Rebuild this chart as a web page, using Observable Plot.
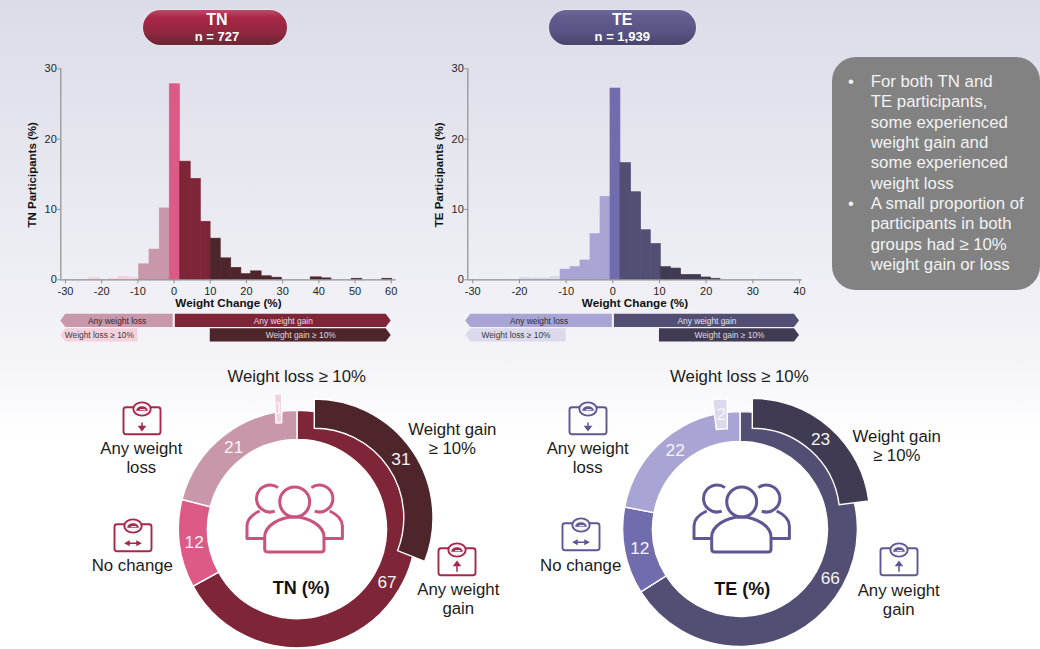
<!DOCTYPE html>
<html>
<head>
<meta charset="utf-8">
<script src="https://cdn.jsdelivr.net/npm/d3@7"></script>
<script src="https://cdn.jsdelivr.net/npm/@observablehq/plot@0.6"></script>
<style>
  html, body { margin: 0; padding: 0; background: #fff; }
  #page {
    position: relative; width: 1040px; height: 649px; overflow: hidden;
    font-family: "Liberation Sans", Arial, sans-serif; color: #1f1f1f;
    background: linear-gradient(#dcdce8 0, #f3f3f8 350px, #ffffff 440px);
  }
  #page svg { position: absolute; overflow: visible; background: transparent; }
  .pill {
    position: absolute; top: 9.5px; height: 35px; border-radius: 18px; color: #fff;
    text-align: center; font-weight: bold; box-sizing: border-box;
    box-shadow: 0 0 0 1px rgba(255,255,255,.2);
  }
  .pill b { display: block; font-size: 16px; line-height: 16px; margin-top: 2px; }
  .pill span { display: block; font-size: 13px; line-height: 15px; margin-top: 1px; }
  .note {
    position: absolute; left: 832px; top: 57px; width: 208px; height: 232.5px;
    border-radius: 24px; background: #828282; color: #f2f2f2;
    font-size: 16.8px; line-height: 20.35px; box-sizing: border-box; padding-top: 15px;
  }
  .note div { position: relative; padding-left: 38.7px; }
  .note div::before { content: "•"; position: absolute; left: 16px; }
  .tag { position: absolute; transform: translate(-50%, -50%); text-align: center;
         font-size: 16.8px; line-height: 19px; white-space: nowrap; color: #1c1c1c; }
  .center { font-weight: bold; font-size: 18px; color: #111; }
</style>
</head>
<body>
<div id="page"></div>
<script>
// Histogram of weight change, treatment-naive group: left bin edge, share, colour tier
const tnBinStart = [-23.5, -18, -15.2, -12.4, -9.67, -6.8, -3.96, -1.2, 1.66, 4.6, 7.4, 10.1, 12.9, 15.8, 18.6, 21.3, 24.2, 27, 37.75, 40.8, 49.1, 57.55];
const tnBinEnd   = [-20.5, -15.2, -12.4, -9.67, -6.8, -3.96, -1.2, 1.66, 4.6, 7.4, 10.1, 12.9, 15.8, 18.6, 21.3, 24.2, 27, 29.8, 40.8, 43.5, 52, 60.3];
const tnBinShare = [0.3, 0.15, 0.45, 0.3, 2.2, 4.3, 10.15, 27.8, 16.8, 14.35, 8.25, 5.85, 3.05, 1.7, 0.8, 1.2, 0.5, 0.3, 0.35, 0.2, 0.15, 0.15];
const tnBinTier  = ["bigLoss", "bigLoss", "bigLoss", "bigLoss", "loss", "loss", "loss", "none", "gain", "gain", "gain", "bigGain", "bigGain", "bigGain", "bigGain", "bigGain", "bigGain", "bigGain", "bigGain", "bigGain", "bigGain", "bigGain"];

// Same histogram for the treatment-experienced group
const teBinStart = [-19.79, -17.64, -15.5, -13.36, -11.2, -9.07, -6.93, -4.79, -2.64, -0.5, 1.64, 3.93, 6.07, 8.14, 10.29, 12.43, 14.64, 16.79, 18.93, 21.07];
const teBinEnd   = [-17.64, -15.5, -13.36, -11.2, -9.07, -6.93, -4.79, -2.64, -0.5, 1.64, 3.93, 6.07, 8.14, 10.29, 12.43, 14.64, 16.79, 18.93, 21.07, 23.07];
const teBinShare = [0.3, 0.2, 0.22, 0.4, 1.45, 1.8, 2.75, 6.5, 11.8, 27.2, 16.6, 12.45, 7.05, 5.1, 1.8, 1.6, 0.7, 0.7, 0.33, 0.15];
const teBinTier  = ["bigLoss", "bigLoss", "bigLoss", "bigLoss", "loss", "loss", "loss", "loss", "loss", "none", "gain", "gain", "gain", "gain", "bigGain", "bigGain", "bigGain", "bigGain", "bigGain", "bigGain"];

// Category summaries shown in the rings
const ringTiers = ["gain", "none", "loss"];
const tnRing = [67, 12, 21];
const teRing = [66, 12, 22];
const tnBigGain = 31, tnBigLoss = 1;
const teBigGain = 23, teBigLoss = 2;

const yTicks = [0, 10, 20, 30];
const tnXTicks = [-30, -20, -10, 0, 10, 20, 30, 40, 50, 60];
const teXTicks = [-30, -20, -10, 0, 10, 20, 30, 40];

const noteLines = [
  ["For both TN and", "TE participants,", "some experienced", "weight gain and", "some experienced", "weight loss"],
  ["A small proportion of", "participants in both", "groups had ≥ 10%", "weight gain or loss"]
];

const font = '"Liberation Sans", Arial, sans-serif';
const page = document.getElementById("page");

const tn = {
  name: "TN", n: "n = 727", yLabel: "TN Participants (%)",
  tones: { bigLoss: "#f5d1de", loss: "#c897a9", none: "#dc5a85", gain: "#7e2637", bigGain: "#4f252c" },
  tagInk: { bigLoss: "#3a3a3a", loss: "#2e2e2e", gain: "#e8dfe2", bigGain: "#e0dadb" },
  pill: { left: 142.5, width: 144, pad: 5, fill: "linear-gradient(#bc4a69 0, #a82645 22%, #92283f 62%, #6b2635 100%)" },
  icon: "#a5284a", people: "#c9527e",
  start: tnBinStart, end: tnBinEnd, share: tnBinShare, tier: tnBinTier, ticks: tnXTicks,
  hist: { left: 0, width: 410, marginLeft: 60.3, marginRight: 14.3, xDomain: [-31.3, 61.38], ribbonFrom: -31.3, lossTo: -0.25, gainFrom: 0.35 },
  ring: tnRing, bigGain: tnBigGain, bigLoss: tnBigLoss,
  cx: 296.7, cy: 529, band: [89.5, 118.7],
  gainShift: [17.3, -11.3], lossShift: [-15.3, -16.7],
  peopleAt: [295.3, 486.7],
  scales: [[142, 420.7, "down"], [132.5, 538, "both"], [456.7, 562, "up"]],
  tags: [
    [296.7, 376, "Weight loss ≥ 10%"], [141.3, 457.8, "Any weight<br>loss"], [132.3, 565.3, "No change"],
    [452.3, 438.8, "Weight gain<br>≥ 10%"], [458.3, 598.5, "Any weight<br>gain"]
  ],
  title: [301.3, 588.3, "TN (%)"]
};

const te = {
  name: "TE", n: "n = 1,939", yLabel: "TE Participants (%)",
  tones: { bigLoss: "#dbd9ec", loss: "#a8a4d4", none: "#716cae", gain: "#534e73", bigGain: "#403b53" },
  tagInk: { bigLoss: "#3a3a3a", loss: "#2e2e2e", gain: "#e2e0ea", bigGain: "#dddbe4" },
  pill: { left: 549, width: 146.5, pad: 0, fill: "linear-gradient(#6e6699 0, #605a8e 22%, #5a5486 62%, #484369 100%)" },
  icon: "#5f5694", people: "#5f5694",
  start: teBinStart, end: teBinEnd, share: teBinShare, tier: teBinTier, ticks: teXTicks,
  hist: { left: 425, width: 395, marginLeft: 42.3, marginRight: 18.3, xDomain: [-31.07, 40.58], ribbonFrom: -31.5, lossTo: -0.1, gainFrom: 0.35 },
  ring: teRing, bigGain: teBigGain, bigLoss: teBigLoss,
  cx: 740, cy: 529.3, band: [87.5, 117.4],
  gainShift: [12.3, -13.3], lossShift: [-12.7, -12.7],
  peopleAt: [742, 486.7],
  scales: [[588, 420.7, "down"], [580.7, 537, "both"], [898.7, 562, "up"]],
  tags: [
    [739.3, 376, "Weight loss ≥ 10%"], [587.7, 457.8, "Any weight<br>loss"], [580.7, 565.3, "No change"],
    [896.7, 445.5, "Weight gain<br>≥ 10%"], [898.7, 599.5, "Any weight<br>gain"]
  ],
  title: [742.3, 589, "TE (%)"]
};

function place(node, left, top) {
  node.style.left = left + "px";
  node.style.top = top + "px";
  page.appendChild(node);
}

// Histogram with its two axes
function histogram(g) {
  const bins = g.start.map((s, i) => ({ start: s, end: g.end[i], share: g.share[i], tone: g.tones[g.tier[i]] }));
  const h = g.hist;
  const plot = Plot.plot({
    width: h.width, height: 250,
    marginLeft: h.marginLeft, marginRight: h.marginRight, marginTop: 8.3, marginBottom: 30.7,
    style: { fontFamily: font, fontSize: "11px", background: "transparent", color: "#1f1f1f" },
    x: { domain: h.xDomain, axis: null },
    y: { domain: [0, 30], axis: null },
    color: { type: "identity" },
    marks: [
      Plot.rectY(bins, { x1: "start", x2: "end", y: "share", fill: "tone", stroke: "tone", strokeWidth: 0.6 }),
      Plot.ruleY([0], { stroke: "#8f8f8f", strokeWidth: 1.2 }),
      Plot.ruleX([h.xDomain[0]], { stroke: "#8f8f8f", strokeWidth: 1.2 }),
      Plot.axisX(g.ticks, { tickSize: 4, tickPadding: 3.5, stroke: "#8f8f8f", fill: "#1f1f1f", label: null, tickFormat: d => String(d) }),
      Plot.axisY(yTicks, { anchor: "left", tickSize: 3, tickPadding: 1, stroke: "#8f8f8f", fill: "#1f1f1f", label: null }),
      Plot.text(["Weight Change (%)"], { frameAnchor: "bottom", dy: 27, fontWeight: "bold", fontSize: 11.7, fill: "#111" }),
      Plot.text([g.yLabel], { frameAnchor: "left", textAnchor: "middle", rotate: -90, dx: -28, dy: 0.5, fontWeight: "bold", fontSize: 11.5, fill: "#111" })
    ]
  });
  place(plot, h.left, 60);

  // Category ribbons on the same horizontal scale
  const last = g.ticks[g.ticks.length - 1];
  const ribbons = [
    { row: 0, from: h.ribbonFrom, to: h.lossTo, side: "left", text: "Any weight loss", tier: "loss" },
    { row: 0, from: h.gainFrom, to: last, side: "right", text: "Any weight gain", tier: "gain" },
    { row: 1, from: h.ribbonFrom, to: -10, side: "left", text: "Weight loss ≥ 10%", tier: "bigLoss" },
    { row: 1, from: 10, to: last, side: "right", text: "Weight gain ≥ 10%", tier: "bigGain" }
  ].map(r => ({
    ...r, mid: (r.from + r.to) / 2, top: r.row + 0.04, bottom: r.row + 0.96, centre: r.row + 0.5,
    tone: g.tones[r.tier], ink: g.tagInk[r.tier]
  }));

  const ribbonPlot = Plot.plot({
    width: h.width, height: 32,
    marginLeft: h.marginLeft, marginRight: h.marginRight, marginTop: 1.2, marginBottom: 1.8,
    style: { fontFamily: font, background: "transparent" },
    x: { domain: h.xDomain, axis: null },
    y: { domain: [0, 2], range: [1.2, 30.2], axis: null },
    color: { type: "identity" },
    marks: [
      Plot.rect(ribbons, {
        x1: "from", x2: "to", y1: "top", y2: "bottom", fill: "tone",
        render(index, scales, values) {
          const g0 = d3.create("svg:g");
          for (const i of index) {
            const x1 = values.x1[i], x2 = values.x2[i], y1 = values.y1[i], y2 = values.y2[i], mid = (y1 + y2) / 2, tip = 5;
            const pts = ribbons[i].side === "left"
              ? [[x1, mid], [x1 + tip, y1], [x2, y1], [x2, y2], [x1 + tip, y2]]
              : [[x1, y1], [x2 - tip, y1], [x2, mid], [x2 - tip, y2], [x1, y2]];
            g0.append("path").attr("d", d3.line()(pts) + "Z").attr("fill", ribbons[i].tone);
          }
          return g0.node();
        }
      }),
      Plot.text(ribbons, { x: "mid", y: "centre", text: "text", fill: "ink", fontSize: 8.4 })
    ]
  });
  place(ribbonPlot, h.left, 312);
}

// Turns a slice's scaled start, end and radii into an annular sector, pulled out by its shift
function sectorRender(rows) {
  return (index, scales, values, dims) => {
    const g0 = d3.create("svg:g");
    const arc = d3.arc();
    for (const i of index) {
      g0.append("path")
        .attr("transform", `translate(${dims.width / 2 + rows[i].shift[0]},${dims.height / 2 + rows[i].shift[1]})`)
        .attr("d", arc({ startAngle: values.x1[i], endAngle: values.x2[i], innerRadius: values.y1[i], outerRadius: values.y2[i] }))
        .attr("fill", rows[i].tone)
        .attr("stroke", "#fff")
        .attr("stroke-width", 1.4);
    }
    return g0.node();
  };
}

// Places each number at its slice's mid-turn and mid-radius
function polarText(rows) {
  return (index, scales, values, dims, context, next) => {
    const x = Array.from(values.x, (a, i) => dims.width / 2 + rows[i].shift[0] + values.y[i] * Math.sin(a));
    const y = Array.from(values.x, (a, i) => dims.height / 2 + rows[i].shift[1] - values.y[i] * Math.cos(a));
    return next(index, scales, { ...values, x, y }, dims, context);
  };
}

function donut(g) {
  const ends = d3.cumsum(g.ring);
  const still = [0, 0];
  const rows = g.ring.map((value, i) => ({
    value, from: ends[i] - value, to: ends[i], shift: still, tone: g.tones[ringTiers[i]]
  })).concat([
    { value: g.bigGain, from: 0, to: g.bigGain, shift: g.gainShift, tone: g.tones.bigGain },
    { value: g.bigLoss, from: 100 - g.bigLoss, to: 100, shift: g.lossShift, tone: g.tones.bigLoss }
  ]).map(d => ({ ...d, r0: g.band[0], r1: g.band[1], rMid: (g.band[0] + g.band[1]) / 2 }));

  const size = 300;
  const plot = Plot.plot({
    width: size, height: size, margin: 0,
    style: { fontFamily: font, background: "transparent" },
    x: { domain: [0, 100], range: [0, 2 * Math.PI], axis: null },
    y: { domain: [0, size], range: [0, size], axis: null },
    marks: [
      Plot.rect(rows, { x1: "from", x2: "to", y1: "r0", y2: "r1", fill: "tone", render: sectorRender(rows) }),
      Plot.text(rows, {
        x: d => (d.from + d.to) / 2, y: "rMid", text: d => String(d.value),
        fill: "#f4f4f4", fontSize: 17.3, render: polarText(rows)
      })
    ]
  });
  place(plot, g.cx - size / 2, g.cy - size / 2);
}

// Three-person pictogram at the centre of a ring
function peopleIcon(g) {
  const [x, y] = g.peopleAt;
  const d = [
    "M-30.3 62 V50 C-30.3 39 -16 30 -0.6 30 C14 30 29 39 29 50 V62 Q29 65 26 65 H-27 Q-30.3 65 -30.3 62 Z",
    "M-17 0.6 A13.5 13.5 0 1 0 -20.3 24.2",
    "M-35.3 24 C-42 27 -48 31 -48 39 V51.6 H-31",
    "M16.4 0.6 A13.5 13.5 0 1 1 19.7 24.2",
    "M34.7 24 C41 27 47.4 31 47.4 39 V51.6 H29.7"
  ].join(" ");
  const svg = d3.create("svg").attr("width", 110).attr("height", 70)
    .style("left", (x - 55) + "px").style("top", y + "px");
  const root = svg.append("g").attr("transform", "translate(55,0)")
    .attr("fill", "none").attr("stroke", g.people).attr("stroke-width", 3).attr("stroke-linejoin", "round");
  root.append("circle").attr("cx", -0.3).attr("cy", 15).attr("r", 15);
  root.append("path").attr("d", d);
  page.appendChild(svg.node());
}

// Bathroom-scale pictogram; the arrow shows the direction of the change
function scaleIcon(g, x, y, dir) {
  const svg = d3.create("svg").attr("width", 44).attr("height", 44)
    .style("left", (x - 22) + "px").style("top", (y - 24) + "px");
  const root = svg.append("g").attr("transform", "translate(22,24)").attr("fill", "none").attr("stroke", g.icon);
  root.append("rect").attr("x", -18.5).attr("y", -13.7).attr("width", 37).attr("height", 27).attr("rx", 2.5).attr("stroke-width", 1.9);
  root.append("ellipse").attr("cy", -12).attr("rx", 8.7).attr("ry", 6.6).attr("fill", "#f6f6fa").attr("stroke-width", 1.9);
  root.append("path").attr("d", "M-5.8 -10.2 A5.8 4.6 0 0 1 5.8 -10.2 Z").attr("fill", g.icon).attr("stroke", "none");
  root.append("path").attr("d", "M-2 -11.4 H3.4").attr("stroke", "#f6f6fa").attr("stroke-width", 1);
  const arrow = {
    down: "M0 1.5 V6.5 M-2.8 5.6 L0 9.3 L2.8 5.6 Z",
    up: "M0 9.7 V3.5 M-2.8 3.4 L0 -0.3 L2.8 3.4 Z",
    both: "M-5 5.2 H5 M-4 3.4 L-7.3 5.2 L-4 7 Z M4 3.4 L7.3 5.2 L4 7 Z"
  }[dir];
  root.append("path").attr("d", arrow).attr("fill", g.icon).attr("stroke-width", 1.5);
  page.appendChild(svg.node());
}

function decorate(g) {
  const pill = document.createElement("div");
  pill.className = "pill";
  pill.style.width = g.pill.width + "px";
  pill.style.paddingLeft = g.pill.pad + "px";
  pill.style.background = g.pill.fill;
  pill.innerHTML = `<b>${g.name}</b><span>${g.n}</span>`;
  place(pill, g.pill.left, 9.5);
  g.tags.forEach(([x, y, text]) => {
    const t = document.createElement("div");
    t.className = "tag";
    t.innerHTML = text;
    place(t, x, y);
  });
  const c = document.createElement("div");
  c.className = "tag center";
  c.textContent = g.title[2];
  place(c, g.title[0], g.title[1]);
  peopleIcon(g);
  g.scales.forEach(([x, y, dir]) => scaleIcon(g, x, y, dir));
}

for (const g of [tn, te]) {
  histogram(g);
  donut(g);
  decorate(g);
}

// Takeaway box
const note = document.createElement("div");
note.className = "note";
note.innerHTML = noteLines.map(lines => `<div>${lines.join("<br>")}</div>`).join("");
page.appendChild(note);
</script>
</body>
</html>
